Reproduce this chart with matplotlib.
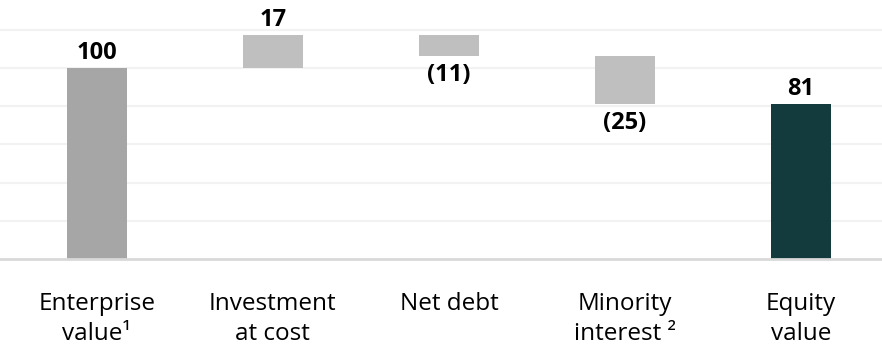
import matplotlib
matplotlib.use("Agg")
import matplotlib.pyplot as plt

categories = ["Enterprise\nvalue¹", "Investment\nat cost", "Net debt", "Minority\ninterest ²", "Equity\nvalue"]
values = [100, 17, -11, -25, 81]
kinds = ["total", "delta", "delta", "delta", "total"]
value_labels = ["100", "17", "(11)", "(25)", "81"]
colors = ["#a6a6a6", "#bfbfbf", "#bfbfbf", "#bfbfbf", "#133b3e"]

plt.rcParams['font.family'] = ['Open Sans', 'DejaVu Sans']

fig = plt.figure(figsize=(8.82, 3.48), dpi=100)
ax = fig.add_axes([0.0, 1 - 259 / 348, 1.0, 259 / 348])

running = 0
bottoms, heights = [], []
for v, k in zip(values, kinds):
    if k == "total":
        bottoms.append(0)
        heights.append(v)
        running = v
    else:
        if v >= 0:
            bottoms.append(running)
            heights.append(v)
        else:
            bottoms.append(running + v)
            heights.append(-v)
        running += v

x = list(range(len(categories)))
ax.bar(x, heights, bottom=bottoms, width=0.34, color=colors, zorder=3)

for i, (v, k, lab) in enumerate(zip(values, kinds, value_labels)):
    top = bottoms[i] + heights[i]
    if v >= 0:
        ax.text(i, top + 1.5, lab, ha="center", va="bottom", fontsize=17,
                fontweight="bold", color="#000000", zorder=4)
    else:
        ax.text(i, bottoms[i] - 3.5, lab, ha="center", va="top", fontsize=17,
                fontweight="bold", color="#000000", zorder=4)

ax.set_xlim(-0.55, 4.46)
ax.set_ylim(0, 135.5)
ax.set_yticks([20, 40, 60, 80, 100, 120])
ax.yaxis.grid(True, color="#f2f2f2", linewidth=1.5, zorder=0)
ax.tick_params(axis="y", left=False, labelleft=False)
ax.tick_params(axis="x", bottom=False, pad=20)
ax.set_xticks(x)
ax.set_xticklabels(categories, fontsize=17.5, color="#000000", linespacing=1.35, va="top")
for s in ["top", "right", "left"]:
    ax.spines[s].set_visible(False)
ax.spines["bottom"].set_color("#d9d9d9")
ax.spines["bottom"].set_linewidth(2)
ax.spines["bottom"].set_zorder(5)

fig.savefig("out.png", dpi=100)
